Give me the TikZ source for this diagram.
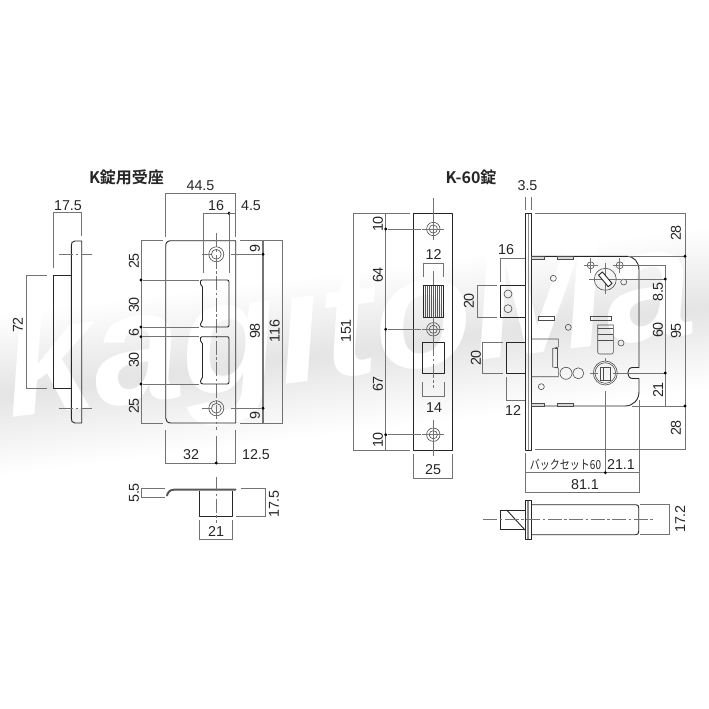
\documentclass[tikz,border=0pt]{standalone}
\usepackage{fontspec}
\setmainfont{Liberation Sans}
\newfontfamily\cjkb{Noto Sans CJK JP Bold}
\newfontfamily\cjk{Noto Sans CJK JP}
\usetikzlibrary{calc}
\tikzset{
  part/.style={draw=black!85,line width=0.9pt,line join=round},
  thin part/.style={draw=black!70,line width=0.6pt},
  dim/.style={draw=black!55,line width=0.7pt},
  centre/.style={draw=black!55,line width=0.6pt,dash pattern=on 14pt off 2.5pt on 2.5pt off 2.5pt},
  lbl/.style={font=\fontsize{14.3}{15}\selectfont,text=black!85,inner sep=0pt},
  vlbl/.style={lbl,rotate=90},
  ttl/.style={font=\cjkb\fontsize{16}{17}\selectfont,text=black!85,inner sep=0pt},
  wm/.style={font=\bfseries\itshape\fontsize{160}{160}\selectfont,inner sep=0pt,rotate=7,anchor=base west},
  dotm/.style={circle,fill=black,inner sep=0pt,minimum size=3.2pt},
}
\newcommand{\hole}[3]{% x y r
  \draw[thin part] (#1,#2) circle ({#3});
  \draw[thin part] (#1,#2) circle ({#3-2.6});
}
\begin{document}
\begin{tikzpicture}[x=1pt,y=-1pt]
\useasboundingbox (0,0) rectangle (709,709);
\fill[white] (0,0) rectangle (709,709);
% watermark: soft band built of nested translucent strips, the word in white over it
\begin{scope}
\clip (0,0) rectangle (709,709);
\foreach \h in {8,14,...,158}{
  \node[rotate=7,minimum width=1000pt,minimum height=\h pt,inner sep=0pt,fill=black,opacity=0.0042,draw=none] at (350,352) {};
}
\end{scope}
\node[wm,text=white] (wmark) at (10,418) {kagitoMa};

% titles
\node[ttl] (t1) at (126.5,177) {K錠用受座};
\node[ttl] (t2) at (471,177) {K-60錠};

%% strike side view
\draw[part] (81.7,241) -- (75,241) .. controls (72,241) and (71.3,243) .. (71.3,246) -- (71.3,418) .. controls (71.3,421) and (72,423) .. (75,423) -- (81.7,423) -- cycle;
\draw[part] (71.3,275.3) -- (53.3,275.3) -- (53.3,388.7) -- (71.3,388.7);
\draw[centre] (59,254.3) -- (92,254.3);
\draw[centre] (59,408.3) -- (92,408.3);
\draw[dim] (53.3,268) -- (53.3,212.5) -- (81.7,212.5) -- (81.7,236);
\draw[dim] (47,275.3) -- (26.3,275.3) -- (26.3,388.7) -- (47,388.7);
\node[lbl] (a1) at (68,205.5) {17.5};
\node[vlbl] (a2) at (18,325) {72};

%% strike front
\draw[part] (235.7,240.7) -- (171,240.7) .. controls (167.5,240.7) and (165.7,242.5) .. (165.7,246) -- (165.7,418) .. controls (165.7,421) and (167.5,423) .. (171,423) -- (235.7,423) -- cycle;
\foreach \y in {254.3,408.3}{
  \hole{216.3}{\y}{7.5}
  \draw[dim] (202,\y) -- (211,\y);
}
\draw[centre] (216.3,233) -- (216.3,430);
\foreach \a/\b in {280/327,336.7/384}{
  \draw[part] (200.5,\a+4) -- (200.5,\a+1) .. controls (200.5,\a) and (201,\a) .. (202,\a) -- (227,\a) .. controls (228.5,\a) and (229,\a+.5) .. (229,\a+2) -- (229,\b-2) .. controls (229,\b-.5) and (228.5,\b) .. (227,\b) -- (203,\b) .. controls (201,\b) and (200.5,\b-1) .. (200.5,\b-3) .. controls (200.5,\b-5) and (202.5,\b-5) .. (202.5,\b-7) -- (202.5,\a+7) .. controls (202.5,\a+5) and (200.5,\a+6) .. (200.5,\a+4);
}
% strike dims
\draw[dim] (165.7,237) -- (165.7,193.3) -- (235.7,193.3) -- (235.7,237);
\draw[dim] (203.7,273) -- (203.7,213.3) -- (229,213.3) -- (229,273);
\node[dotm] (d1) at (229,213.3) {};
\draw[dim] (229,213.3) -- (235.7,213.3);
\node[lbl] (a3) at (200.5,186) {44.5};
\node[lbl] (a4) at (216,206) {16};
\node[lbl] (a5) at (251,206) {4.5};
\draw[dim] (163,240.7) -- (141,240.7) -- (141,423) -- (163,423);
\foreach \y/\n in {280/p1,327/p2,336.7/p3,384/p4}{
  \node[dotm] (\n) at (141,\y) {};
  \draw[dim] (\n) -- (199,\y);
}
\node[vlbl] (a6) at (134,261) {25};
\node[vlbl] (a7) at (134,305) {30};
\node[vlbl] (a8) at (134,332.5) {6};
\node[vlbl] (a9) at (134,360) {30};
\node[vlbl] (a10) at (134,406) {25};
\draw[dim] (240,240.7) -- (282.5,240.7) -- (282.5,423) -- (240,423);
\draw[dim,line width=1.1pt] (263,240.7) -- (263,423);
\foreach \y/\n in {254.3/q1,408.3/q2}{
  \node[dotm] (\n) at (263,\y) {};
  \draw[dim] (231,\y) -- (\n);
}
\node[vlbl] (a11) at (255,248.5) {9};
\node[vlbl] (a12) at (255,416) {9};
\node[vlbl] (a13) at (255,331) {98};
\node[vlbl] (a14) at (274.7,331) {116};
\draw[dim] (165.7,430) -- (165.7,463) -- (235.7,463) -- (235.7,430);
\draw[dim] (216.3,436) -- (216.3,463);
\node[dotm] (d2) at (216.3,463) {};
\node[lbl] (a15) at (191,455) {32};
\node[lbl] (a16) at (256,455) {12.5};

%% strike bottom
\draw[draw=black!65,line width=2pt,line cap=round] (167,495.5) .. controls (168,492) and (170,489.7) .. (174,489.7) -- (235.5,489.7);
\draw[part] (199.7,491) -- (199.7,516.7) -- (232.7,516.7) -- (232.7,491);
\draw[centre] (216.3,477) -- (216.3,523);
\draw[dim] (165,488.7) -- (141,488.7) -- (141,497) -- (165,497);
\draw[dim] (241,488.7) -- (265,488.7) -- (265,516.7) -- (236,516.7);
\draw[dim] (199.7,520) -- (199.7,539.3) -- (232.7,539.3) -- (232.7,520);
\node[vlbl] (a17) at (134,493) {5.5};
\node[vlbl] (a18) at (274,504) {17.5};
\node[lbl] (a19) at (216,532) {21};

%% face plate
\draw[part,line width=1.1pt] (413.7,213.3) rectangle (452.7,450.3);
\draw[part] (423.3,285.7) rectangle (443.3,317);
\foreach \x in {425.3,427.3,...,441.3}{ \draw[draw=black!65,line width=0.6pt] (\x,285.7) -- (\x,317); }
\draw[part] (422.3,342) rectangle (444.7,373.3);
\foreach \y in {229,329.3,434.7}{
  \hole{433.3}{\y}{6.7}
  \draw[dim] (421.7,\y) -- (443.5,\y);
}
\draw[dim] (433.3,198) -- (433.3,240);
\draw[dim] (433.3,271) -- (433.3,285);
\draw[dim] (433.3,317) -- (433.3,342);
\draw[centre] (433.3,342) -- (433.3,388);
\draw[dim] (433.3,420) -- (433.3,456);
\draw[dim] (423.3,277) -- (423.3,263.3) -- (443.3,263.3) -- (443.3,277);
\draw[dim] (422.3,382) -- (422.3,396.7) -- (444.7,396.7) -- (444.7,382);
\node[lbl] (b1) at (433.5,255) {12};
\node[lbl] (b2) at (434,408) {14};
\draw[dim] (410,213.3) -- (353.7,213.3) -- (353.7,450.3) -- (410,450.3);
\draw[dim,line width=1.1pt] (385.7,213.3) -- (385.7,450.3);
\foreach \y/\n in {229/r1,329.3/r2,434.7/r3}{
  \node[dotm] (\n) at (385.7,\y) {};
  \draw[dim] (\n) -- (421,\y);
}
\node[vlbl] (b3) at (378,224) {10};
\node[vlbl] (b4) at (378,275) {64};
\node[vlbl] (b5) at (346,331) {151};
\node[vlbl] (b6) at (378,384) {67};
\node[vlbl] (b7) at (378,440) {10};
\draw[dim] (413.7,454) -- (413.7,478) -- (452.7,478) -- (452.7,454);
\node[lbl] (b8) at (433,470) {25};

%% lock side
\draw[part] (525,213.3) rectangle (531.3,450.3);
\draw[draw=black!45,line width=1.2pt] (528.2,214) -- (528.2,449.5);
\draw[part] (531.3,256.3) -- (626.7,256.3) .. controls (634,256.3) and (639,262) .. (639,270) -- (639,367.5) -- (633,367.5) .. controls (626,367) and (626,379) .. (633,378.5) -- (639,378.5) -- (639,391.7) .. controls (639,400) and (633,406) .. (625,406) -- (531.3,406);
\foreach \a/\b in {531.3/544.3,557.3/573.3}{
  \draw[thin part,fill=black!15] (\a,256.3) rectangle (\b,259.5);
  \draw[thin part,fill=black!15] (\a,402.8) rectangle (\b,406);
}
\foreach \x in {590.7,619.7}{
  \draw[thin part] (\x,265.3) circle (3.5);
  \draw[dim,line width=.5pt] (\x-7,265.3) -- (\x+7,265.3) (\x,258) -- (\x,272.5);
}
\draw[thin part] (605.3,279.3) circle (11);
\draw[dim,line width=.5pt] (589,279.3) -- (621,279.3) (605.3,263) -- (605.3,294);
\draw[part,fill=white,rotate around={-50:(605.3,279.3)}] (597.8,276.8) rectangle (612.8,281.8);
\foreach \x/\y in {623.7/282,553.3/278.3,568.3/327.3,621/343,541.3/386.7}{
  \draw[thin part] (\x,\y) circle (3);
}
\draw[thin part] (538.3,316.3) rectangle (554,320.7);
\draw[thin part] (590.3,316.3) rectangle (611.7,320.7);
\draw[thin part] (597.7,325) -- (613.3,325) -- (613.3,352) .. controls (613.3,353.5) and (612.5,354) .. (611,354) -- (600,354) .. controls (598.5,354) and (597.7,353.5) .. (597.7,352) -- cycle;
\draw[thin part] (597.7,328.3) -- (613.3,328.3) (597.7,334.3) -- (613.3,334.3) (597.7,340) -- (613.3,340);
\draw[thin part] (605.3,373) circle (12);
\draw[thin part] (605.3,373) circle (10.3);
\draw[thin part] (600,367.3) rectangle (610.7,380);
\draw[thin part] (603,367.3) -- (603,380);
\draw[dim,line width=.5pt] (590,373) -- (598,373) (613,373) -- (632,373) (605.3,358) -- (605.3,361);
\draw[thin part] (531.3,339) -- (558.3,339) -- (558.3,347) -- (552.7,348.5) -- (552.7,367) -- (558.3,368) -- (558.3,376.7) -- (531.3,376.7);
\draw[thin part] (555,348.5) -- (557.5,348.5) -- (557.5,367) -- (555,367);
\draw[thin part] (566,373.3) circle (6);
\draw[thin part] (578.3,373.3) circle (5.5);
% bolts
\draw[part] (500.3,285.7) rectangle (525,317);
\draw[thin part] (508,294) circle (4);
\draw[thin part] (508,308.7) circle (4);
\draw[part] (506.3,342.3) rectangle (525,373.3);
% lock dims
\draw[dim] (500.3,282) -- (500.3,258.3) -- (525,258.3);
\node[lbl] (c1) at (506,250) {16};
\draw[dim] (497,285.7) -- (477.3,285.7) -- (477.3,317) -- (497,317);
\node[vlbl] (c2) at (469,301) {20};
\draw[dim] (502.7,342.3) -- (482.7,342.3) -- (482.7,373.3) -- (502.7,373.3);
\node[vlbl] (c3) at (476,358) {20};
\draw[dim] (506.3,377) -- (506.3,400.3) -- (525,400.3);
\node[lbl] (c4) at (513,410.5) {12};
\draw[dim] (525,210) -- (525,197) (531.3,210) -- (531.3,197);
\node[lbl] (c5) at (527.5,186) {3.5};
\draw[dim] (535,213.3) -- (685,213.3) -- (685,449.7) -- (535,449.7);
\draw[dim] (628,256.3) -- (685,256.3);
\draw[dim] (632,406) -- (685,406);
\node[dotm] (s1) at (685,256.3) {};
\node[dotm] (s2) at (685,406) {};
\node[vlbl] (c6) at (676,233) {28};
\node[vlbl] (c7) at (676,331) {95};
\node[vlbl] (c8) at (676,428) {28};
\draw[dim] (620,265.7) -- (665.3,265.7) -- (665.3,406);
\draw[dim] (625,279) -- (665.3,279);
\draw[dim] (632,373) -- (665.3,373);
\node[dotm] (s3) at (665.3,279) {};
\node[dotm] (s4) at (665.3,373) {};
\node[vlbl] (c9) at (658,292) {8.5};
\node[vlbl] (c10) at (658,330) {60};
\node[vlbl] (c11) at (658,390) {21};
\draw[dim] (605.3,391) -- (605.3,472.7);
\draw[dim] (639,400) -- (639,492) -- (525,492) -- (525,453);
\draw[dim] (525,472.7) -- (639,472.7);
\node[dotm] (s5) at (605.3,472.7) {};
\node[lbl,font=\cjk\fontsize{12.5}{13}\selectfont,xscale=0.8] (c12) at (565.5,465) {バックセット60};
\node[lbl] (c13) at (621,465) {21.1};
\node[lbl] (c14) at (585,485) {81.1};

%% lock bottom
\draw[part] (525,500.3) rectangle (531,539.7);
\draw[draw=black!45,line width=1.2pt] (528,501) -- (528,539);
\draw[part] (531,504.7) -- (636,504.7) .. controls (638,504.7) and (638.7,506) .. (638.7,508) -- (638.7,531) .. controls (638.7,533.5) and (638,534.7) .. (636,534.7) -- (531,534.7);
\draw[part] (525,510) -- (500,510) -- (500,529.7) -- (525,529.7);
\draw[part] (506.7,510) -- (525,530);
\draw[centre] (483,519.7) -- (654,519.7);
\draw[dim] (640,504.7) -- (669,504.7) -- (669,534.7) -- (640,534.7);
\node[vlbl] (c15) at (680,519) {17.2};
\end{tikzpicture}
\end{document}
